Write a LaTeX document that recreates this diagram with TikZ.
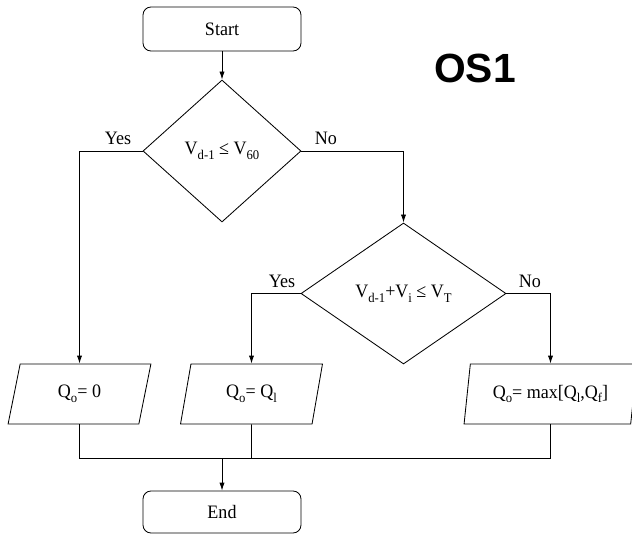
\documentclass[tikz,border=0pt]{standalone}
\usepackage{fontspec}
\setmainfont{Liberation Serif}[FakeStretch=0.95]
\setsansfont{Liberation Sans}
\usetikzlibrary{arrows.meta, positioning, calc, shapes.geometric}

% lowered subscript
\newcommand{\lsub}[1]{\raisebox{-0.55ex}{\fontsize{9.5}{10}\selectfont #1}}

\tikzset{
  txt/.style={font=\fontsize{13.5}{15}\selectfont},
  termbox/.style={draw, txt, rounded corners=2mm, minimum width=39.5mm,
    minimum height=11mm},
  decision/.style={draw, txt, diamond, inner sep=0pt},
  iobox/.style={draw, txt, trapezium, trapezium left angle=76,
    trapezium right angle=104, trapezium stretches=true,
    minimum height=15mm, inner sep=0pt},
  lbl/.style={txt, inner sep=0pt},
  flow/.style={-{Latex[length=2mm,width=1.3mm]}},
}

\begin{document}
\begin{tikzpicture}[line width=0.6pt]
\useasboundingbox (0,0) rectangle (158mm,133.5mm);

\node[termbox] (start) at (55.5mm,126.25mm) {Start};
\node[font=\sffamily\bfseries\fontsize{29}{32}\selectfont] (os) at (118.75mm,116.5mm) {OS1};

% first test
\node[decision, minimum width=39.5mm, minimum height=35.5mm] (d1) at (55.5mm,95.75mm)
  {V\lsub{d-1} ≤ V\lsub{60}};
\node[lbl, anchor=south east] (yes1) at ($(d1.west)+(-2.75mm,1.4mm)$) {Yes};
\node[lbl, anchor=south west] (no1) at ($(d1.east)+(3.25mm,1.4mm)$) {No};

% second test
\node[decision, minimum width=51.25mm, minimum height=35.25mm] (d2) at (100.875mm,60.125mm)
  {V\lsub{d-1}+V\lsub{i} ≤ V\lsub{T}};
\node[lbl, anchor=south east] (yes2) at ($(d2.west)+(-1.25mm,1.4mm)$) {Yes};
\node[lbl, anchor=south west] (no2) at ($(d2.east)+(3mm,1.4mm)$) {No};

% outputs
\node[iobox, minimum width=35.75mm] (p1) at (19.875mm,35mm) {Q\lsub{o}= 0};
\node[iobox, minimum width=35.5mm] (p2) at (62.875mm,35mm) {Q\lsub{o}= Q\lsub{l}};
\node[iobox, minimum width=43.25mm] (p3) at (137.625mm,35mm)
  {Q\lsub{o}= max[Q\lsub{l},Q\lsub{f}]};

\node[termbox, minimum height=10.5mm] (end) at (55.5mm,5.5mm) {End};
\coordinate (join) at (55.5mm,19mm);

\draw[flow] (start) -- (d1);
\draw[flow] (d1.west) -| (p1);
\draw[flow] (d1.east) -| (d2);
\draw[flow] (d2.west) -| (p2);
\draw[flow] (d2.east) -| (p3);

\draw (p1) |- (join);
\draw (p3) |- (join);
\draw (p2) -- (p2 |- join);
\draw[flow] (join) -- (end);

%\draw[step=5mm,color=gray] (0,0) grid (158mm,133.5mm);
\end{tikzpicture}
\end{document}
